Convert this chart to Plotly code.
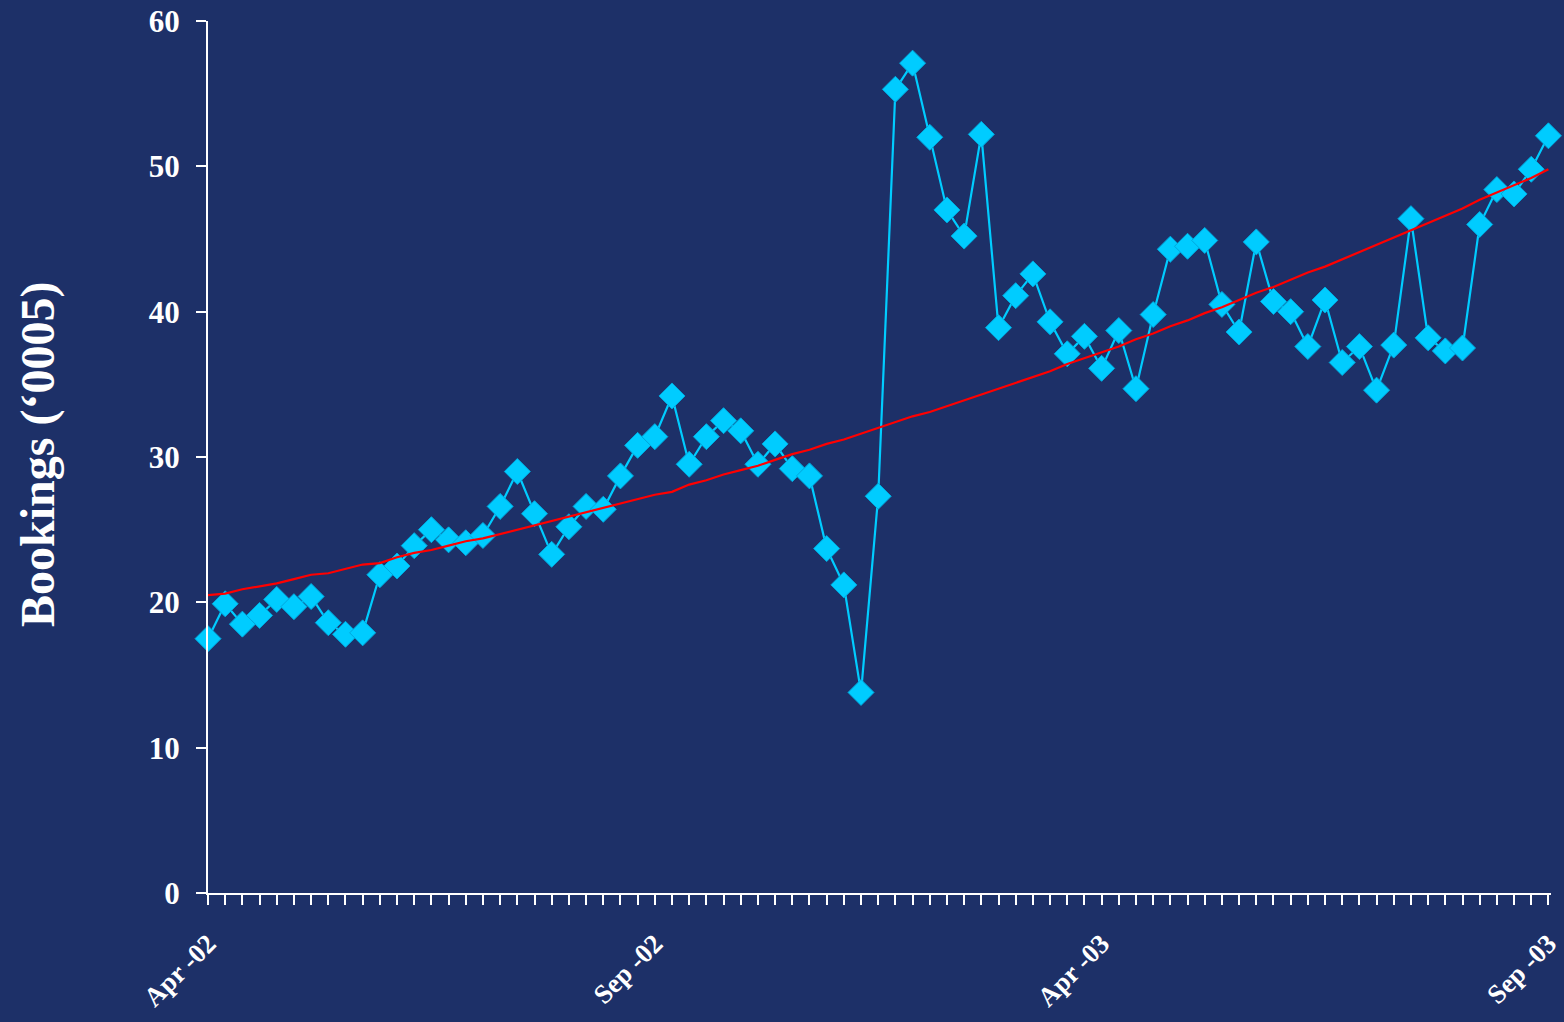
import plotly.graph_objects as go

# Weekly bookings, Apr 2002 - Sep 2003 (thousands)
week_index = list(range(79))
bookings = [
    17.5, 19.9, 18.5, 19.1, 20.2, 19.7, 20.4, 18.6, 17.8, 17.9,
    21.9, 22.5, 23.9, 25.0, 24.3, 24.1, 24.6, 26.6, 29.0, 26.1,
    23.3, 25.2, 26.6, 26.4, 28.7, 30.8, 31.4, 34.2, 29.5, 31.4,
    32.5, 31.8, 29.5, 30.9, 29.2, 28.7, 23.7, 21.2, 13.8, 27.3,
    55.3, 57.1, 52.0, 47.0, 45.2, 52.2, 38.9, 41.1, 42.6, 39.3,
    37.1, 38.3, 36.1, 38.7, 34.7, 39.8, 44.3, 44.5, 44.9, 40.5,
    38.6, 44.8, 40.7, 40.0, 37.6, 40.8, 36.5, 37.6, 34.6, 37.7,
    46.4, 38.2, 37.3, 37.5, 46.0, 48.4, 48.1, 49.8, 52.1,
]
# Trend line through the weekly series
trend = [
    20.5, 20.6, 20.9, 21.1, 21.3, 21.6, 21.9, 22.0, 22.3, 22.6,
    22.7, 23.1, 23.4, 23.6, 23.9, 24.2, 24.4, 24.7, 25.0, 25.3,
    25.6, 25.9, 26.2, 26.5, 26.8, 27.1, 27.4, 27.6, 28.1, 28.4,
    28.8, 29.1, 29.4, 29.8, 30.2, 30.5, 30.9, 31.2, 31.6, 32.0,
    32.4, 32.8, 33.1, 33.5, 33.9, 34.3, 34.7, 35.1, 35.5, 35.9,
    36.4, 36.8, 37.2, 37.6, 38.1, 38.5, 39.0, 39.4, 39.9, 40.3,
    40.8, 41.3, 41.7, 42.2, 42.7, 43.1, 43.6, 44.1, 44.6, 45.1,
    45.6, 46.1, 46.6, 47.1, 47.7, 48.2, 48.7, 49.2, 49.8,
]
tick_labels = {0: "Apr -02", 26: "Sep -02", 52: "Apr -03", 78: "Sep -03"}
y_title = "Bookings (\u20180005)"

BG = "#1D3068"
CYAN = "#00CCFF"
FONT = "Liberation Serif"

fig = go.Figure()
fig.add_trace(go.Scatter(
    x=week_index, y=bookings, mode="lines+markers",
    line=dict(color=CYAN, width=2.2),
    marker=dict(symbol="diamond", size=20, color=CYAN,
                line=dict(color="#00A8DD", width=1)),
    cliponaxis=False, showlegend=False,
))
fig.add_trace(go.Scatter(
    x=week_index, y=trend, mode="lines",
    line=dict(color="#FF0000", width=2.2),
    cliponaxis=False, showlegend=False,
))

fig.update_layout(
    width=1564, height=1022,
    paper_bgcolor=BG, plot_bgcolor=BG,
    margin=dict(l=208, r=13, t=21, b=129),
    font=dict(family=FONT, color="white"),
)
fig.update_xaxes(
    automargin=False,
    range=[0, 78.15],
    tickmode="array",
    tickvals=week_index,
    ticktext=[tick_labels.get(i, "") for i in week_index],
    tickangle=-45,
    tickfont=dict(family=FONT, size=27, color="white", weight="bold"),
    ticklabelstandoff=12,
    ticks="outside", ticklen=10, tickwidth=2, tickcolor="white",
    showline=True, linecolor="white", linewidth=2,
    showgrid=False, zeroline=False,
)
fig.update_yaxes(
    automargin=False,
    range=[0, 60],
    tickvals=[0, 10, 20, 30, 40, 50, 60],
    tickfont=dict(family=FONT, size=31, color="white", weight="bold"),
    ticklabelstandoff=10,
    ticks="outside", ticklen=10, tickwidth=2, tickcolor="white",
    showline=True, linecolor="white", linewidth=2,
    showgrid=False, zeroline=False,
)
fig.add_annotation(
    text=y_title, textangle=-90, showarrow=False,
    xref="paper", yref="paper",
    x=(38 - 208) / 1343, y=(893 - 455) / 872,
    xanchor="center", yanchor="middle",
    font=dict(family=FONT, size=48, color="white", weight="bold"),
)

fig.write_html("out.html")
